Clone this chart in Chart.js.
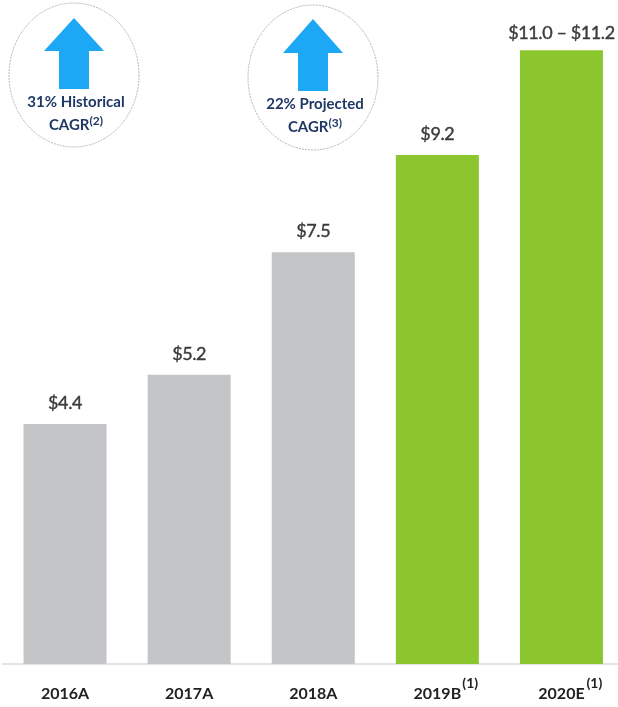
<!DOCTYPE html>
<html>
<head>
<meta charset="utf-8">
<title>Revenue chart</title>
<style>
  html, body { margin: 0; padding: 0; background: #fff; overflow: hidden; }
  #wrap { width: 618px; height: 707px; overflow: hidden; }
  canvas { display: block; }
</style>
<script src="https://cdn.jsdelivr.net/npm/chart.js@4"></script>
</head>
<body>
<div id="wrap"><canvas id="chart" width="624" height="707"></canvas></div>
<script>
// ========================
// DATA
// ========================
const categories = ["2016A", "2017A", "2018A", "2019B", "2020E"];
const values = [4.35, 5.24, 7.46, 9.22, 11.12];
const valueLabels = ["$4.4", "$5.2", "$7.5", "$9.2", "$11.0 – $11.2"];
const tickNotes = ["", "", "", "(1)", "(1)"];

const GREY = "#c4c5c7";
const GREEN = "#8cc62f";
const barColors = [GREY, GREY, GREY, GREEN, GREEN];

// badges over the bars
const badges = [
  { cx: 74, cy: 75, rx: 65, ry: 72, top: 18, neck: 51, foot: 89, line1: "31% Historical", line2: "CAGR", note: "(2)" },
  { cx: 313, cy: 77.5, rx: 65, ry: 72.5, top: 19, neck: 53, foot: 91, line1: "22% Projected", line2: "CAGR", note: "(3)" },
];

// ========================
// PLUGINS
// ========================
const barLabels = {
  id: "barLabels",
  afterDatasetsDraw(chart) {
    const { ctx, scales: { x, y } } = chart;
    ctx.save();
    ctx.font = "18px Lato";
    ctx.letterSpacing = "-0.4px";
    ctx.fillStyle = "#3c3c3c";
    ctx.strokeStyle = "#3c3c3c";
    ctx.lineWidth = 0.4;
    ctx.textAlign = "center";
    ctx.textBaseline = "alphabetic";
    values.forEach((v, i) => {
      const px = x.getPixelForValue(i);
      // the range label sits closer to its bar
      const py = y.getPixelForValue(v) - (i === values.length - 1 ? 11 : 15);
      ctx.fillText(valueLabels[i], px, py);
      ctx.strokeText(valueLabels[i], px, py);
    });
    ctx.restore();
  },
};

const tickSuperscripts = {
  id: "tickSuperscripts",
  afterDraw(chart) {
    const { ctx, scales: { x } } = chart;
    ctx.save();
    ctx.font = "bold 14px Lato";
    ctx.fillStyle = "#222222";
    ctx.textAlign = "left";
    ctx.textBaseline = "alphabetic";
    tickNotes.forEach((note, i) => {
      if (note) ctx.fillText(note, x.getPixelForValue(i) + 25, 688);
    });
    ctx.restore();
  },
};

const cagrBadges = {
  id: "cagrBadges",
  afterDraw(chart) {
    const { ctx } = chart;
    badges.forEach((b) => {
      ctx.save();
      ctx.beginPath();
      ctx.ellipse(b.cx, b.cy, b.rx, b.ry, 0, 0, Math.PI * 2);
      ctx.fillStyle = "#ffffff";
      ctx.fill();
      ctx.strokeStyle = "#b5b5b5";
      ctx.lineWidth = 1;
      ctx.setLineDash([2, 1]);
      ctx.stroke();
      ctx.setLineDash([]);

      // arrow
      ctx.beginPath();
      ctx.moveTo(b.cx, b.top);
      ctx.lineTo(b.cx + 30, b.neck);
      ctx.lineTo(b.cx + 15, b.neck);
      ctx.lineTo(b.cx + 15, b.foot);
      ctx.lineTo(b.cx - 15, b.foot);
      ctx.lineTo(b.cx - 15, b.neck);
      ctx.lineTo(b.cx - 30, b.neck);
      ctx.closePath();
      ctx.fillStyle = "#1ca8f4";
      ctx.fill();

      // text
      ctx.fillStyle = "#1f3864";
      ctx.textBaseline = "alphabetic";
      ctx.textAlign = "center";
      ctx.font = "bold 15px Lato";
      ctx.fillText(b.line1, b.cx + 2, b.foot + 18);
      const w = ctx.measureText(b.line2).width;
      ctx.font = "bold 12px Lato";
      const nw = ctx.measureText(b.note).width;
      const left = b.cx + 2 - (w + nw) / 2;
      ctx.textAlign = "left";
      ctx.fillText(b.note, left + w, b.foot + 36);
      ctx.font = "bold 15px Lato";
      ctx.fillText(b.line2, left, b.foot + 41);
      ctx.restore();
    });
  },
};

// ========================
// CHART
// ========================
new Chart(document.getElementById("chart").getContext("2d"), {
  type: "bar",
  data: {
    labels: categories,
    datasets: [{
      data: values,
      backgroundColor: barColors,
      borderWidth: 0,
      categoryPercentage: 0.669,
      barPercentage: 1,
    }],
  },
  options: {
    responsive: false,
    animation: false,
    layout: { padding: { left: 3, right: 0.5, top: 1.6, bottom: 0 } },
    plugins: { legend: { display: false }, tooltip: { enabled: false }, title: { display: false } },
    scales: {
      x: {
        afterFit(scale) { scale.height = 43; },
        grid: { display: false, drawTicks: false },
        border: { display: true, color: "#e2e3e5", width: 2 },
        ticks: {
          color: "#222222",
          font: { family: "Lato", size: 16, weight: "bold" },
          padding: 20,
          maxRotation: 0,
          autoSkip: false,
        },
      },
      y: { display: false, min: 0, max: 12 },
    },
  },
  plugins: [barLabels, tickSuperscripts, cagrBadges],
});
</script>
</body>
</html>
